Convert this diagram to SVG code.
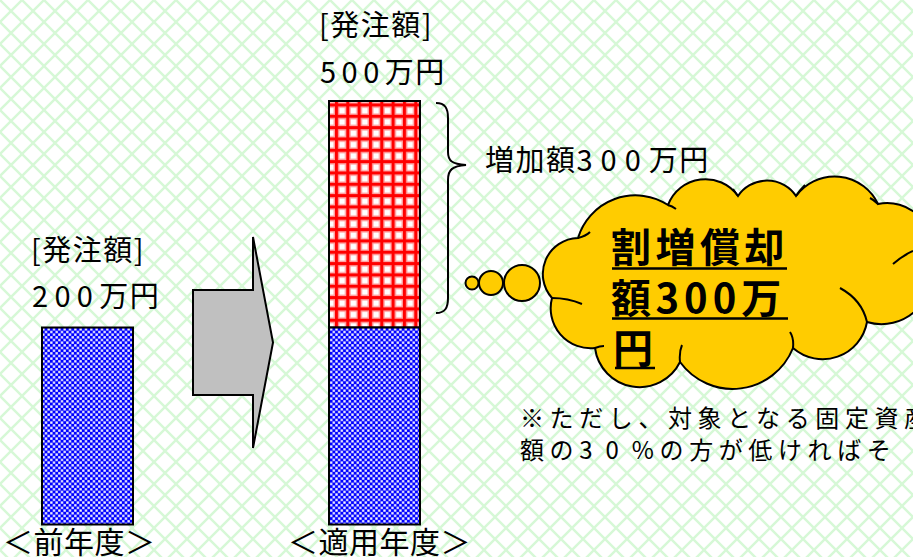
<svg xmlns="http://www.w3.org/2000/svg" width="913" height="557" viewBox="0 0 913 557">
<defs>
<pattern id="bg" width="22" height="22" patternUnits="userSpaceOnUse">
<rect width="22" height="22" fill="#ffffff"/>
<path d="M-3,-3 L25,25 M25,-3 L-3,25" stroke="#d6f8d6" stroke-width="2.4" fill="none"/>
</pattern>
<pattern id="blue" width="5.33" height="5.33" patternUnits="userSpaceOnUse" x="42" y="328">
<rect width="5.33" height="5.33" fill="#0000ff"/>
<rect x="0.2" y="0.2" width="2.3" height="2.3" fill="#ffffff"/>
<rect x="2.86" y="2.86" width="2.3" height="2.3" fill="#ffffff"/>
</pattern>
<pattern id="red" width="11.33" height="11.33" patternUnits="userSpaceOnUse" x="335" y="103.5">
<rect width="11.33" height="11.33" fill="#ffffff"/>
<rect x="-1.4" y="0" width="5.8" height="11.33" fill="#ff9c9c"/>
<rect x="0" y="-1.4" width="11.33" height="5.8" fill="#ff9c9c"/>
<rect x="9.93" y="0" width="1.4" height="11.33" fill="#ff9c9c"/>
<rect x="0" y="9.93" width="11.33" height="1.4" fill="#ff9c9c"/>
<rect x="0" y="0" width="3" height="11.33" fill="#ff0000"/>
<rect x="0" y="0" width="11.33" height="3" fill="#ff0000"/>
</pattern>
<style>
.t{font-family:"Noto Sans CJK JP","Noto Sans",sans-serif;fill:#000;}
.m{font-size:29px;letter-spacing:1.5px;}
.n{font-size:24px;letter-spacing:5.6px;}
.b{font-size:30px;letter-spacing:0.5px;}
.c{font-size:40px;font-weight:bold;letter-spacing:4.5px;}
.cd{letter-spacing:5px;}
.bar{stroke:#000;stroke-width:2;}
.ln{stroke:#000;stroke-width:2;fill:none;}
.cl{fill:#ffcc00;stroke:#000;stroke-width:2;}
</style>
</defs>
<rect id="background" width="913" height="557" fill="url(#bg)"/>

<g id="prev-bar">
<rect class="bar" x="42" y="327.5" width="91" height="197" fill="url(#blue)"/>
</g>
<g id="prev-label">
<text class="t m" x="31" y="261">[発注額]</text>
<text class="t m" x="32" y="307"><tspan letter-spacing="6.3">200</tspan>万円</text>
</g>

<g id="arrow">
<polygon points="193,290 253,290 253,237 273,342.5 253,448 253,395 193,395" fill="#c0c0c0" stroke="#000" stroke-width="2"/>
</g>

<g id="curr-bar">
<rect class="bar" x="329" y="101" width="91" height="226.5" fill="url(#red)"/>
<rect class="bar" x="329" y="327.5" width="91" height="197" fill="url(#blue)"/>
</g>
<g id="curr-label">
<text class="t m" x="319" y="36">[発注額]</text>
<text class="t m" x="320" y="83"><tspan letter-spacing="5.5">500</tspan>万円</text>
</g>

<g id="connectors">
<path class="ln" d="M436,103 C445,103 448,108 448,118 L448,152 C448,161 452,164 466,165 C452,166 448,170 448,180 L448,298 C448,308 445,313 436,313"/>
</g>
<g id="increase-label">
<text class="t m" x="485" y="171">増加額<tspan letter-spacing="8">300</tspan>万円</text>
</g>

<g id="cloud">
<circle class="cl" cx="472" cy="283" r="6.5"/>
<circle class="cl" cx="491" cy="283" r="12"/>
<circle class="cl" cx="522" cy="283" r="18"/>
<path class="cl" d="M552,298 A36,36 0 0,1 578,238 A60,60 0 0,1 668,205 A40,40 0 0,1 738,196 A35,35 0 0,1 796,196 A48,48 0 0,1 878,204 A45,45 0 0,1 930,262 A50,50 0 0,1 867,322 A45,45 0 0,1 793,348 A65,65 0 0,1 680,362 A45,45 0 0,1 595,348 A40,40 0 0,1 552,298 Z"/>
<path class="ln" d="M552,298 Q568,298 582,304 M595,348 Q600,346 604,346 M680,362 Q679,352 682,345 M793,348 Q794,338 790,332 M867,322 Q862,300 840,288 M893,264 Q902,256 913,251 M668,205 Q672,206 676,209 M738,196 Q735,192 733,189 M796,196 Q800,190 805,185 M878,204 Q874,200 870,198 M578,238 Q586,236 590,232"/>
<text class="t c" x="611" y="262">割増償却</text>
<text class="t c" x="611" y="313">額<tspan class="cd">300</tspan>万</text>
<text class="t c" x="613" y="363">円</text>
<path d="M612,268.5 H787 M612,318.5 H788 M615,368 H655" stroke="#000" stroke-width="2.6"/>
</g>

<g id="note">
<text class="t n" x="520" y="427">※ただし、対象となる固定資産</text>
<text class="t n" x="520" y="459" letter-spacing="10">額の<tspan letter-spacing="13">30</tspan>%の方が低ければそ</text>
</g>

<g id="bottom-labels">
<text class="t b" x="3" y="553">＜前年度＞</text>
<text class="t b" x="288" y="553">＜適用年度＞</text>
</g>
</svg>
